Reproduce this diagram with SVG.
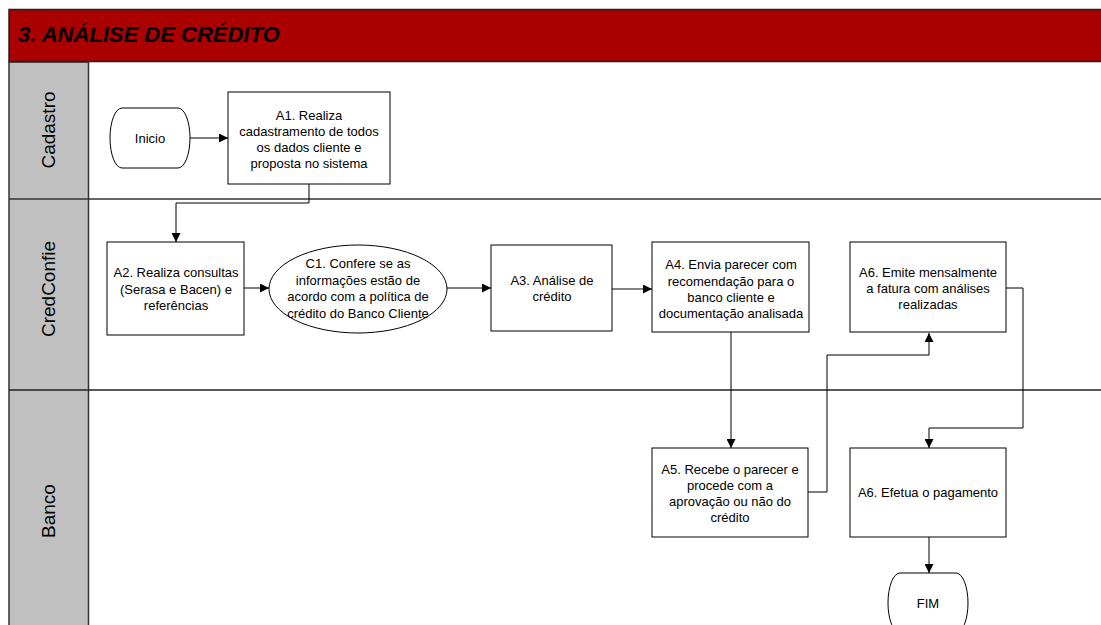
<svg xmlns="http://www.w3.org/2000/svg" width="1101" height="625" viewBox="0 0 1101 625">
<style>
.box{fill:#fff;stroke:#000;stroke-width:1}
.t{font-family:"Liberation Sans",Arial,sans-serif;font-size:13px;fill:#000;text-anchor:middle}
.lane{font-family:"Liberation Sans",Arial,sans-serif;font-size:19px;fill:#000;text-anchor:middle}
.c{fill:none;stroke:#000;stroke-width:1}
</style>
<defs>
<marker id="ah" viewBox="0 0 10 10" refX="10" refY="5" markerWidth="10" markerHeight="9" markerUnits="userSpaceOnUse" orient="auto">
<path d="M0,0 L10,5 L0,10 Z" fill="#000"/>
</marker>
</defs>
<rect x="0" y="0" width="1101" height="625" fill="#fff"/>
<g id="frame">
<rect x="9" y="62" width="79.5" height="580" fill="#c0c0c0" stroke="#333" stroke-width="1.5"/>
<rect x="9" y="9.5" width="1100" height="52" fill="#aa0000" stroke="#222" stroke-width="1.5"/>
<text x="18" y="42" font-family="'Liberation Sans',Arial,sans-serif" font-size="22" font-weight="bold" font-style="italic" fill="#000">3. ANÁLISE DE CRÉDITO</text>
<line x1="9" y1="199" x2="1101" y2="199" stroke="#333" stroke-width="1.5"/>
<line x1="9" y1="390" x2="1101" y2="390" stroke="#222" stroke-width="1.5"/>
<text class="lane" transform="translate(55,130) rotate(-90)">Cadastro</text>
<text class="lane" transform="translate(55,289) rotate(-90)">CredConfie</text>
<text class="lane" transform="translate(55,511) rotate(-90)">Banco</text>
</g>
<g id="connectors">
<path class="c" d="M190,138 H228" marker-end="url(#ah)"/>
<path class="c" d="M309,184 V203 H176 V242" marker-end="url(#ah)"/>
<path class="c" d="M244,288 H269" marker-end="url(#ah)"/>
<path class="c" d="M447,288 H491" marker-end="url(#ah)"/>
<path class="c" d="M612,289 H652" marker-end="url(#ah)"/>
<path class="c" d="M731,332 V448" marker-end="url(#ah)"/>
<path class="c" d="M808,492 H827 V355 H929 V333" marker-end="url(#ah)"/>
<path class="c" d="M1006,288 H1023 V428 H929 V448" marker-end="url(#ah)"/>
<path class="c" d="M929,537 V573" marker-end="url(#ah)"/>
</g>
<g id="inicio">
<path class="box" d="M122,108 H178 A12,30 0 0 1 178,168 H122 A12,30 0 0 1 122,108 Z"/>
<text class="t" x="150" y="143">Inicio</text>
</g>
<g id="a1">
<rect class="box" x="228" y="92" width="162" height="92"/>
<text class="t" x="309" y="120">A1. Realiza</text>
<text class="t" x="309" y="136">cadastramento de todos</text>
<text class="t" x="309" y="152">os dados cliente e</text>
<text class="t" x="309" y="168">proposta no sistema</text>
</g>
<g id="a2">
<rect class="box" x="107" y="242" width="137" height="93"/>
<text class="t" x="176" y="277">A2. Realiza consultas</text>
<text class="t" x="176" y="294">(Serasa e Bacen) e</text>
<text class="t" x="176" y="310">referências</text>
</g>
<g id="c1">
<ellipse class="box" cx="358" cy="289" rx="89" ry="44"/>
<text class="t" x="358" y="268">C1. Confere se as</text>
<text class="t" x="358" y="285">informações estão de</text>
<text class="t" x="358" y="301">acordo com a política de</text>
<text class="t" x="358" y="318">crédito do Banco Cliente</text>
</g>
<g id="a3">
<rect class="box" x="491" y="245" width="121" height="86"/>
<text class="t" x="552" y="285">A3. Análise de</text>
<text class="t" x="552" y="301">crédito</text>
</g>
<g id="a4">
<rect class="box" x="652" y="242" width="157" height="90"/>
<text class="t" x="731" y="269">A4. Envia parecer com</text>
<text class="t" x="731" y="286">recomendação para o</text>
<text class="t" x="731" y="302">banco cliente e</text>
<text class="t" x="731" y="318">documentação analisada</text>
</g>
<g id="a6emite">
<rect class="box" x="850" y="242" width="156" height="90"/>
<text class="t" x="928" y="277">A6. Emite mensalmente</text>
<text class="t" x="928" y="293">a fatura com análises</text>
<text class="t" x="928" y="309">realizadas</text>
</g>
<g id="a5">
<rect class="box" x="652" y="448" width="156" height="89"/>
<text class="t" x="730" y="474">A5. Recebe o parecer e</text>
<text class="t" x="730" y="490">procede com a</text>
<text class="t" x="730" y="506">aprovação ou não do</text>
<text class="t" x="730" y="522">crédito</text>
</g>
<g id="a6efetua">
<rect class="box" x="850" y="448" width="156" height="89"/>
<text class="t" x="928" y="497">A6. Efetua o pagamento</text>
</g>
<g id="fim">
<path class="box" d="M900,573 H956 A12,30 0 0 1 956,633 H900 A12,30 0 0 1 900,573 Z"/>
<text class="t" x="928" y="608">FIM</text>
</g>
</svg>
